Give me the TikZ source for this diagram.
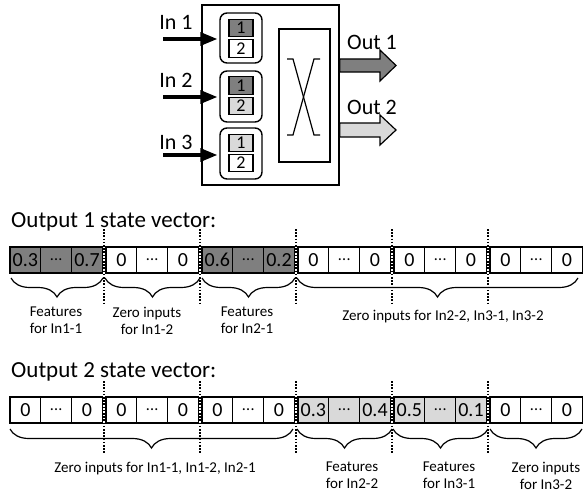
\documentclass[tikz,border=0pt]{standalone}
\usepackage{fontspec}
\setmainfont{Carlito}
\usetikzlibrary{decorations.pathreplacing,arrows.meta}
\definecolor{dk}{HTML}{7F7F7F}
\definecolor{lt}{HTML}{D9D9D9}
\newcommand{\celldots}{{\fontsize{16}{18}\selectfont.\kern0.3pt.\kern0.3pt.}}
\begin{document}
\begin{tikzpicture}[x=1pt,y=-1pt,
  cell/.style={draw,line width=1.1pt,minimum width=30.8pt,minimum height=26pt,inner sep=0pt,font=\fontsize{20}{22}\selectfont},
  sq/.style={draw,line width=1.1pt,minimum width=24pt,minimum height=17.5pt,inner sep=0pt,font=\fontsize{18}{20}\selectfont},
  rbox/.style={draw,line width=1.4pt,rounded corners=7pt,minimum width=42pt,inner sep=0pt},
  big/.style={font=\fontsize{22}{24}\selectfont,inner sep=0pt},
  ttl/.style={font=\fontsize{23}{26}\selectfont,inner sep=0pt,anchor=base west},
  lbl/.style={font=\fontsize{15}{17}\selectfont,inner sep=0pt,align=center},
  brc/.style={decorate,decoration={brace,mirror,amplitude=19pt},line width=1.2pt},
  dots/.style={line width=2pt,dash pattern=on 1.6pt off 1.6pt},
  inarrow/.style={line width=3.2pt,-{Triangle[length=17pt,width=13pt]}},
  outarrow/.style={draw,line width=1.2pt}
]
\useasboundingbox (0,0) rectangle (583,495);

% ---------- switch block ----------
\node[draw,line width=1.5pt,minimum width=137pt,minimum height=180pt,inner sep=0pt] (main) at (270.5,95) {};
\node[draw,line width=1.3pt,minimum width=51pt,minimum height=133pt,inner sep=0pt] (sw) at (304.5,95.5) {};
\draw[line width=1.2pt] (287,59) -- (293,59) -- (314,135) -- (320,135);
\draw[line width=1.2pt] (320,59) -- (314,59) -- (293,135) -- (287,135);

\node[rbox,minimum height=50pt] (rb1) at (241,38) {};
\node[rbox,minimum height=51pt] (rb2) at (241,96.5) {};
\node[rbox,minimum height=51pt] (rb3) at (241,153.5) {};

\node[sq,fill=dk] (s11) at (241,28) {1};
\node[sq,fill=white] (s12) at (241,48.5) {2};
\node[sq,fill=dk] (s21) at (241,85.5) {1};
\node[sq,fill=lt] (s22) at (241,106) {2};
\node[sq,fill=lt] (s31) at (241,143) {1};
\node[sq,fill=white] (s32) at (241,163) {2};

\node[big] (l1) at (176,22) {In 1};
\node[big] (l2) at (176,80) {In 2};
\node[big] (l3) at (176,142) {In 3};
\coordinate (i1) at (163,39);
\coordinate (i2) at (163,97);
\coordinate (i3) at (163,155);
\draw[inarrow] (i1) -- ([xshift=-2pt]rb1.west |- i1);
\draw[inarrow] (i2) -- ([xshift=-2pt]rb2.west |- i2);
\draw[inarrow] (i3) -- ([xshift=-2pt]rb3.west |- i3);

\draw[outarrow,fill=dk] (339.7,59) -- (380,59) -- (380,50) -- (396,65.5) -- (380,81) -- (380,72) -- (339.7,72) -- cycle;
\draw[outarrow,fill=lt] (339.7,123) -- (380,123) -- (380,115) -- (396,130) -- (380,145) -- (380,137) -- (339.7,137) -- cycle;
\node[big] (o1) at (372,42) {Out 1};
\node[big] (o2) at (372,107) {Out 2};

% ---------- vector 1 ----------
\node[ttl] (t1) at (11,227) {Output 1 state vector:};
\foreach \g/\f/\a/\b in {0/dk/0.3/0.7,1/white/0/0,2/dk/0.6/0.2,3/white/0/0,4/white/0/0,5/white/0/0}{
  \pgfmathsetmacro\xo{10+96*\g}
  \node[cell,fill=\f] (v1g\g-0) at (\xo+15.4,260) {\a};
  \node[cell,fill=\f] (v1g\g-1) at (\xo+46.2,260) {\celldots};
  \node[cell,fill=\f] (v1g\g-2) at (\xo+77,260) {\b};
}
\foreach \k in {1,...,5}{
  \pgfmathsetmacro\xd{10+96*\k-1.8}
  \draw[dots] (\xd,229) -- (\xd,303);
}
\draw[brc] (11,278) -- (103,278);
\draw[brc] (105,278) -- (200,278);
\draw[brc] (202,278) -- (295,278);
\draw[brc] (297,278) -- (578,278);
\node[lbl,anchor=north] (f1) at (56,307) {Features\\for In1-1};
\node[lbl,anchor=north] (f2) at (147,307) {Zero inputs\\for In1-2};
\node[lbl,anchor=north] (f3) at (247,307) {Features\\for In2-1};
\node[lbl,anchor=base] (f4) at (443,320) {Zero inputs for In2-2, In3-1, In3-2};

% ---------- vector 2 ----------
\node[ttl] (t2) at (11,377) {Output 2 state vector:};
\foreach \g/\f/\a/\b in {0/white/0/0,1/white/0/0,2/white/0/0,3/lt/0.3/0.4,4/lt/0.5/0.1,5/white/0/0}{
  \pgfmathsetmacro\xo{10+96*\g}
  \node[cell,fill=\f] (v2g\g-0) at (\xo+15.4,410) {\a};
  \node[cell,fill=\f] (v2g\g-1) at (\xo+46.2,410) {\celldots};
  \node[cell,fill=\f] (v2g\g-2) at (\xo+77,410) {\b};
}
\foreach \k in {1,...,5}{
  \pgfmathsetmacro\xd{10+96*\k-1.8}
  \draw[dots] (\xd,381) -- (\xd,453);
}
\draw[brc] (10,429) -- (293,429);
\draw[brc] (297,429) -- (392,429);
\draw[brc] (393,429) -- (488,429);
\draw[brc] (490,429) -- (582,429);
\node[lbl,anchor=base] (g1) at (155,472) {Zero inputs for In1-1, In1-2, In2-1};
\node[lbl,anchor=north] (g2) at (352,462) {Features\\for In2-2};
\node[lbl,anchor=north] (g3) at (449,462) {Features\\for In3-1};
\node[lbl,anchor=north] (g4) at (546,462) {Zero inputs\\for In3-2};
\end{tikzpicture}
\end{document}
